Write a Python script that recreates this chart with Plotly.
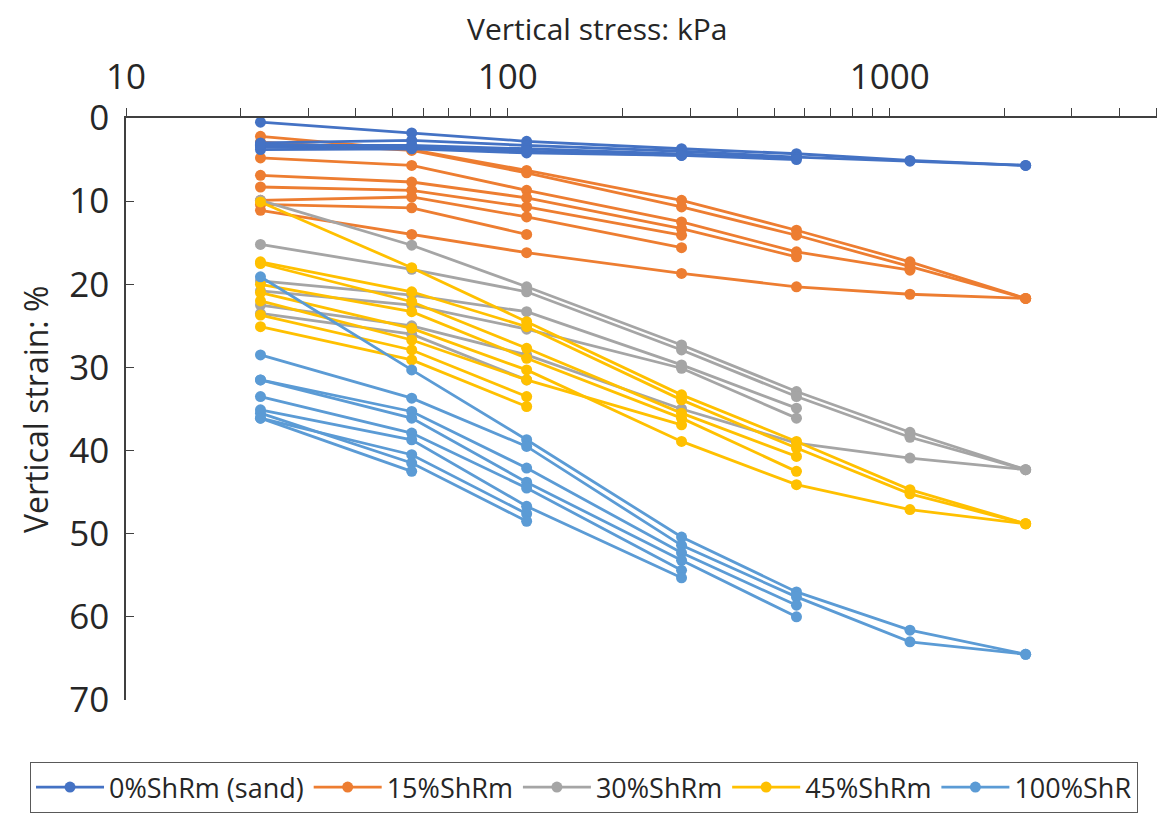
import plotly.graph_objects as go

# ---------------- data ----------------
stress_kpa = [22.5, 56, 112, 285, 570, 1130, 2270]

group_names = ["0%ShRm (sand)", "15%ShRm", "30%ShRm", "45%ShRm", "100%ShR"]
group_colors = ["#4472C4", "#ED7D31", "#A5A5A5", "#FFC000", "#5B9BD5"]

strain_sand = [
    [0.5, 1.8, 2.8, 3.7, 4.3, 5.1, 5.7],
    [3.0, 2.7, 3.3, 4.0, 4.7, 5.2, 5.7],
    [3.3, 3.3, 3.7, 4.3, 4.8, None, None],
    [3.5, 3.6, 4.0, 4.5, 5.0, None, None],
    [3.8, 3.7, 4.2, 4.5, None, None, None],
    [3.2, 3.4, 3.9, None, None, None, None],
]

strain_15 = [
    [2.2, 3.8, 6.3, 9.9, 13.5, 17.3, 21.7],
    [2.9, 3.9, 6.6, 10.7, 14.1, 17.9, 21.7],
    [4.8, 5.7, 8.7, 12.5, 16.1, 18.3, None],
    [6.9, 7.7, 9.6, 13.3, 16.7, None, None],
    [8.3, 8.7, 10.7, 14.1, None, None, None],
    [9.9, 9.5, 11.9, 15.6, None, None, None],
    [10.4, 10.8, 14.0, None, None, None, None],
    [11.1, 14.0, 16.2, 18.7, 20.3, 21.2, 21.7],
]

strain_30 = [
    [9.9, 15.3, 20.3, 27.3, 32.9, 37.8, 42.3],
    [15.2, 18.2, 20.9, 27.9, 33.5, 38.4, 42.3],
    [19.6, 21.3, 23.3, 29.7, 34.9, None, None],
    [20.8, 22.5, 25.4, 30.1, 36.1, None, None],
    [22.5, 25.0, 28.5, 35.0, 39.1, 40.9, 42.3],
    [23.5, 26.0, 31.5, None, None, None, None],
]

strain_45 = [
    [10.1, 18.0, 24.5, 33.3, 38.9, 44.7, 48.8],
    [17.3, 20.9, 25.1, 33.9, 39.7, 45.2, 48.8],
    [17.5, 22.1, 27.7, 35.5, 40.7, None, None],
    [20.0, 23.3, 28.9, 36.1, 42.5, None, None],
    [21.0, 25.3, 30.3, 38.9, 44.1, 47.1, 48.8],
    [22.0, 26.7, 31.5, 36.9, None, None, None],
    [23.7, 27.9, 33.5, None, None, None, None],
    [25.1, 29.1, 34.7, None, None, None, None],
]

strain_100 = [
    [19.1, 30.3, 38.7, 50.4, 57.0, 61.6, 64.5],
    [28.5, 33.7, 39.5, 51.4, 57.6, 63.0, 64.5],
    [31.5, 35.3, 42.1, 52.3, 58.6, None, None],
    [31.5, 36.1, 43.8, 53.2, 60.0, None, None],
    [33.5, 37.9, 44.5, 54.4, None, None, None],
    [35.1, 38.7, 46.7, 55.3, None, None, None],
    [36.1, 40.5, 47.6, None, None, None, None],
    [35.5, 41.5, 48.5, None, None, None, None],
    [36.1, 42.5, None, None, None, None, None],
]

x_tick_vals = [10, 100, 1000]
x_tick_text = ["10", "100", "1000"]
x_minor_vals = [20, 30, 40, 50, 60, 70, 80, 90, 200, 300, 400, 500, 600, 700, 800, 900,
                2000, 3000, 4000, 5000]
y_tick_vals = [0, 10, 20, 30, 40, 50, 60, 70]

# ---------------- figure ----------------
FONT = "Open Sans"
TXT = "#262626"
AX = "#404040"
fig = go.Figure()

groups = [strain_sand, strain_15, strain_30, strain_45, strain_100]
draw_order = [1, 2, 3, 4, 0]
for gi in draw_order:
    for k, ys in enumerate(groups[gi]):
        xs = [x for x, y in zip(stress_kpa, ys) if y is not None]
        yv = [y for y in ys if y is not None]
        fig.add_trace(go.Scatter(
            x=xs, y=yv, mode="lines+markers",
            name=group_names[gi], legendgroup=group_names[gi],
            showlegend=(k == 0), legendrank=gi + 1,
            line=dict(color=group_colors[gi], width=2.8),
            marker=dict(color=group_colors[gi], size=11),
        ))

fig.update_layout(
    width=1168, height=821,
    margin=dict(l=118, r=19, t=110, b=129, autoexpand=False),
    paper_bgcolor="white", plot_bgcolor="white",
    font=dict(family=FONT, color=TXT),
    showlegend=True,
    legend=dict(
        orientation="h", xref="paper", yref="paper",
        x=-0.0931, xanchor="left", y=-0.1065, yanchor="top",
        bordercolor="#595959", borderwidth=1, itemwidth=68,
        font=dict(family=FONT, size=27, color=TXT),
        traceorder="normal",
    ),
    annotations=[
        dict(text="Vertical stress: kPa", xref="paper", yref="paper",
             x=0.457, y=1.153, xanchor="center", yanchor="middle",
             showarrow=False, font=dict(family=FONT, size=30, color=TXT)),
        dict(text="Vertical strain: %", xref="paper", yref="paper",
             x=-0.0883, y=0.5, xanchor="center", yanchor="middle", textangle=-90,
             showarrow=False, font=dict(family=FONT, size=32, color=TXT)),
    ],
)

fig.update_xaxes(
    type="log", range=[1, 3.7], side="top", automargin=False,
    showline=True, linecolor=AX, linewidth=1.5,
    showgrid=False, zeroline=False,
    tickvals=x_tick_vals, ticktext=x_tick_text,
    ticks="outside", ticklen=8, tickcolor=AX,
    minor=dict(ticks="outside", ticklen=8, tickcolor=AX, showgrid=False,
               tickvals=x_minor_vals),
    tickfont=dict(family=FONT, size=35, color=TXT),
    ticklabelstandoff=5,
)

fig.update_yaxes(
    range=[70, 0], automargin=False, showline=True, linecolor=AX, linewidth=1.5,
    showgrid=False, zeroline=False,
    tickvals=y_tick_vals, ticks="inside", ticklen=8, tickcolor=AX,
    tickfont=dict(family=FONT, size=35, color=TXT),
    ticklabelstandoff=8,
)

fig.write_html("out.html")
